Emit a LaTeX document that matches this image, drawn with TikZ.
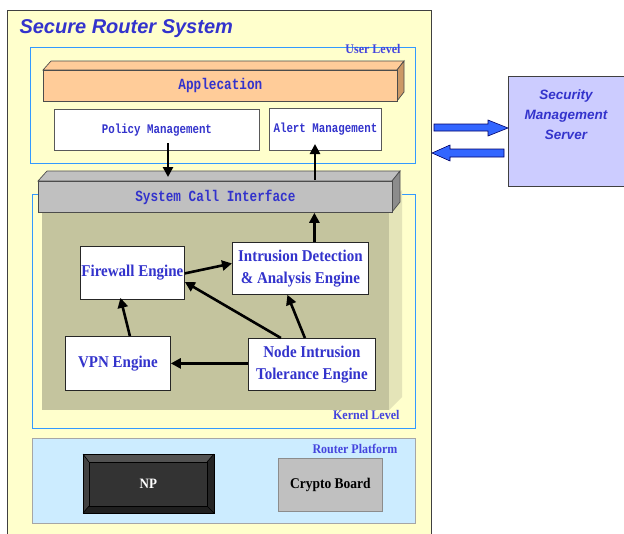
\documentclass[tikz,border=0pt]{standalone}
\usepackage{fontspec}
\usepackage{graphicx}
\setmainfont{Liberation Serif}
\setsansfont{Liberation Sans}
\setmonofont{Liberation Mono}
\usetikzlibrary{arrows.meta}

\definecolor{paneyellow}{RGB}{255,255,204}
\definecolor{txtblue}{RGB}{51,51,204}
\definecolor{lblblue}{RGB}{68,68,221}
\definecolor{lvlblue}{RGB}{51,153,255}
\definecolor{peach}{RGB}{255,204,153}
\definecolor{peachside}{RGB}{204,153,102}
\definecolor{scigray}{RGB}{192,192,192}
\definecolor{scigrayside}{RGB}{140,140,140}
\definecolor{olivearea}{RGB}{196,196,158}
\definecolor{oliveside}{RGB}{228,228,184}
\definecolor{platblue}{RGB}{204,236,255}
\definecolor{servblue}{RGB}{204,204,255}
\definecolor{arrblue}{RGB}{51,102,255}
\definecolor{arrnavy}{RGB}{0,0,102}

% tall, narrow lettering for the typewriter labels
\newcommand{\tallmono}[1]{\scalebox{1}[1.22]{#1}}
\newcommand{\tallser}[1]{\scalebox{1}[1.1]{#1}}

\tikzset{
  box/.style={draw=black!65, fill=white, line width=0.8pt, inner sep=0pt, anchor=north west},
  monotext/.style={font=\ttfamily\bfseries\fontsize{10.8}{12}\selectfont, text=txtblue},
  bigmono/.style={font=\ttfamily\bfseries\fontsize{12.7}{14}\selectfont, text=txtblue},
  engine/.style={box, draw=black!85, text=txtblue, align=center,
    font=\bfseries\fontsize{15}{22}\selectfont},
  lvllabel/.style={anchor=east, text=lblblue, font=\bfseries\fontsize{12}{13}\selectfont},
  flow/.style={line width=2.6pt, -{Triangle[length=10pt,width=10pt]}},
  blockarrow/.style={fill=arrblue, draw=arrnavy, line width=0.6pt, line join=miter},
}

\begin{document}
\begin{tikzpicture}[x=1pt, y=-1pt]
\useasboundingbox (0,0) rectangle (624,533);

% outer system pane
\draw[draw=black!75, fill=paneyellow, line width=0.9pt] (7,10) rectangle (431,540);
\node[anchor=west, text=txtblue, font=\sffamily\bfseries\itshape\fontsize{20}{22}\selectfont]
  (title) at (16,29) {Secure Router System};

% user level frame
\draw[lvlblue, line width=0.8pt] (30,47) rectangle (415,163);
\node[lvllabel] (ulabel) at (404,49) {\tallser{User Level}};

% kernel level frame
\draw[lvlblue, line width=0.8pt] (32,194) rectangle (415,428);
\node[lvllabel] (klabel) at (403,415) {\tallser{Kernel Level}};

% kernel block (front + lit side)
\fill[oliveside] (389,203) -- (402,190) -- (402,397) -- (389,410) -- cycle;
\fill[olivearea] (42,195) rectangle (389,410);

% system call interface slab
\draw[black!70, fill=scigray, line width=0.7pt] (38,181) -- (47,171) -- (400,171) -- (392,181) -- cycle;
\draw[black!70, fill=scigrayside, line width=0.7pt] (392,181) -- (400,171) -- (400,202) -- (392,212) -- cycle;
\node[box, draw=black!70, fill=scigray, minimum width=354pt, minimum height=31pt, bigmono]
  (sci) at (38,181) {\tallmono{System Call Interface}};

% application slab
\draw[black!70, fill=peach, line width=0.7pt] (43,70) -- (51,61) -- (404,61) -- (397,70) -- cycle;
\draw[black!70, fill=peachside, line width=0.7pt] (397,70) -- (404,61) -- (404,92) -- (397,101) -- cycle;
\node[box, draw=black!70, fill=peach, minimum width=354pt, minimum height=31pt, bigmono]
  (app) at (43,70) {\tallmono{Applecation}};

% management modules
\node[box, minimum width=205pt, minimum height=41pt, monotext] (pm) at (54,109) {\tallmono{Policy Management}};
\node[box, minimum width=112pt, minimum height=42pt, monotext] (am) at (269,108) {\tallmono{Alert Management}};

% kernel engines
\node[engine, minimum width=104pt, minimum height=53pt] (fw) at (80,246) {\tallser{Firewall Engine}};
\node[engine, minimum width=136pt, minimum height=52pt] (ids) at (232,242)
  {\tallser{Intrusion Detection}\\\tallser{\& Analysis Engine}};
\node[engine, minimum width=105pt, minimum height=54pt] (vpn) at (65,336) {\tallser{VPN Engine}};
\node[engine, minimum width=127pt, minimum height=52pt] (nite) at (248,338)
  {\tallser{Node Intrusion}\\\tallser{Tolerance Engine}};

% control flow
\coordinate (pmout) at (168,143);
\coordinate (sciin) at (168,177);
\coordinate (sciout) at (315,180);
\coordinate (amin) at (315,144);
\draw[flow] (pmout) -- (sciin);
\draw[flow] (sciout) -- (amin);
\draw[flow] ([xshift=14pt]ids.north) -- ([xshift=14pt]ids.north |- sci.south);
\draw[flow] ([yshift=-0.5pt]fw.east) -- ([yshift=5pt]ids.west);
\draw[flow] ([xshift=-31pt]nite.north) -- ([yshift=-9pt]fw.east);
\draw[flow] ([xshift=-7pt]nite.north) -- ([xshift=-13pt]ids.south);
\draw[flow] ([xshift=12pt]vpn.north) -- ([xshift=-12pt,yshift=2pt]fw.south);
\draw[flow] ([yshift=1pt]nite.west) -- ([yshift=0pt]vpn.east);

% router platform
\draw[black!35, fill=platblue, line width=0.8pt] (32,438) rectangle (415,523);
\node[lvllabel] (plabel) at (401,449) {\tallser{Router Platform}};

% network processor (bevelled key)
\fill[black!80] (83,454) rectangle (214,513);
\fill[black!68] (83,454) -- (214,454) -- (207,462) -- (89,462) -- cycle;
\fill[black!88] (83,513) -- (214,513) -- (207,506) -- (89,506) -- cycle;
\fill[black!74] (83,454) -- (89,462) -- (89,506) -- (83,513) -- cycle;
\fill[black!86] (214,454) -- (207,462) -- (207,506) -- (214,513) -- cycle;
\draw[black, line width=0.6pt] (83,454) -- (89,462) (214,454) -- (207,462)
  (83,513) -- (89,506) (214,513) -- (207,506);
\node[draw=black, fill=black!80, line width=0.6pt, inner sep=0pt, anchor=north west,
  minimum width=118pt, minimum height=44pt, text=white, font=\bfseries\fontsize{13}{15}\selectfont]
  (np) at (89,462) {\tallser{NP}};
\draw[black, line width=1pt] (83,454) rectangle (214,513);

\node[box, draw=black!45, fill=scigray, minimum width=104pt, minimum height=53pt,
  font=\bfseries\fontsize{13.5}{15}\selectfont] (crypto) at (278,458) {\tallser{Crypto Board}};

% external management server
\node[draw=black!75, fill=servblue, line width=0.8pt, inner sep=0pt, anchor=north west,
  minimum width=118pt, minimum height=110pt] (sms) at (508,76) {};
\node[align=center, text=txtblue, font=\sffamily\bfseries\itshape\fontsize{13.5}{20}\selectfont]
  (smstext) at (566,115) {Security\\Management\\Server};

% exchange arrows
\draw[blockarrow] (434,124) -- (488,124) -- (488,120) -- (sms.west |- 0,128) -- (488,136) -- (488,131) -- (434,131) -- cycle;
\draw[blockarrow] (504,149) -- (450,149) -- (450,145) -- (432,153) -- (450,161) -- (450,157) -- (504,157) -- cycle;
\end{tikzpicture}
\end{document}
